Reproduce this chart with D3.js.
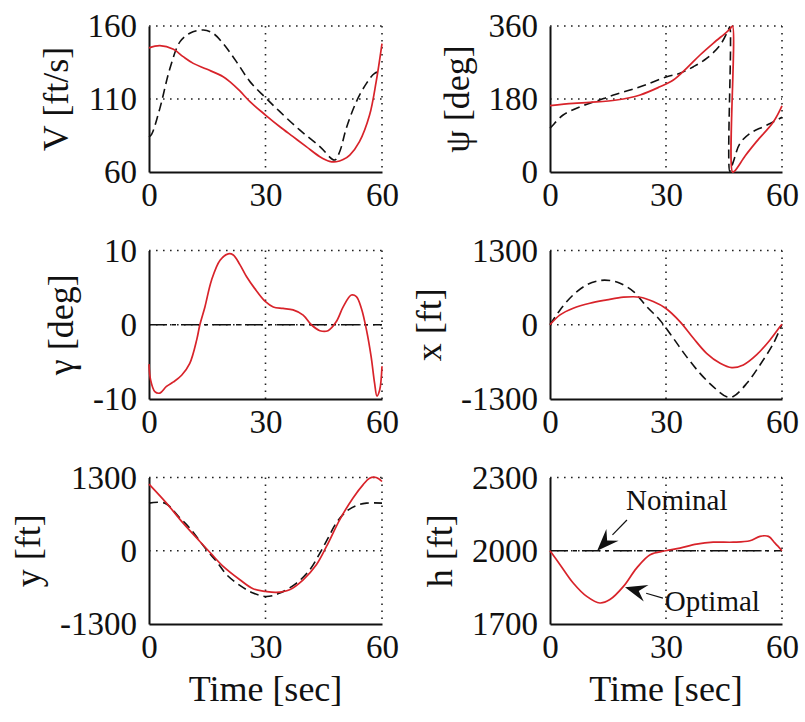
<!DOCTYPE html>
<html>
<head>
<meta charset="utf-8">
<script src="https://cdn.jsdelivr.net/npm/d3@7"></script>
<style>
  html, body { margin: 0; padding: 0; background: #fff; }
  svg { display: block; }
  text { font-family: "Liberation Serif", "Times New Roman", serif; fill: #111; }
</style>
</head>
<body>
<svg id="chart" width="805" height="722"></svg>
<script>
// ---- time grid & axis ticks ----
const timeTicks = [0, 30, 60];
const timeLabel = "Time [sec]";

// ---- V [ft/s] ----
const V_ticks = [60, 110, 160];
const V_opt_t = [0, 2.8, 6.3, 8.8, 11.4, 14.8, 19.1, 20.8, 23.4, 26, 30, 33.7, 37.1, 40.5, 44, 46.5, 48.2, 50, 51.7, 54.2, 56.8, 58.5, 60];
const V_opt   = [145, 146.5, 144, 139, 134.4, 130.5, 125.3, 121.9, 115.5, 108.2, 99, 91, 84.2, 77.4, 70.5, 67.3, 67, 68.5, 71.6, 80.8, 99, 121.9, 148];
const V_nom_t = [0, 0.7, 2.8, 5.4, 8, 10.5, 14, 16.5, 19.1, 22.5, 26, 30, 33.7, 38.8, 44, 47.8, 49.1, 50.8, 53.4, 56, 58.1, 60];
const V_nom   = [84, 86, 103.6, 131, 149.3, 155, 157.3, 155, 148, 135.6, 121.9, 110.9, 101.3, 88.8, 77.4, 68.2, 73.9, 89.9, 108.2, 120.7, 127.6, 129];

// ---- psi [deg] (heading wraps at 360) ----
const psi_ticks = [0, 180, 360];
const psi_opt_t = [0, 6, 10.3, 17.2, 23.3, 28.4, 31.9, 35.3, 38.8, 42.2, 45.7, 46.6, 47.2, 47.2, 47.8, 50.5, 53.4, 57.8, 60];
const psi_opt   = [163.5, 169, 171.8, 177.5, 190, 210, 226.8, 255.6, 288.5, 317.3, 345, 353, 360, 0, 3, 40, 74.8, 124, 163];
const psi_nom_t = [0, 0.4, 3.4, 7.8, 12.1, 16.4, 20.7, 25, 30.2, 33.6, 37.1, 40.5, 44, 46.1, 46.5, 46.5, 47.4, 49.1, 51.7, 55.2, 57.8, 60];
const psi_nom   = [108, 111.8, 140.5, 161, 175, 189.8, 202, 216, 235, 243.3, 259.7, 280, 313, 350, 358, 2, 25, 70, 95, 111.8, 124, 135];

// ---- gamma [deg] ----
const gam_ticks = [-10, 0, 10];
const gam_opt_t = [0, 0.4, 1.5, 2.8, 4.5, 6.3, 8.4, 10.5, 12.3, 13.1, 14.4, 16.1, 18.3, 20.4, 21.7, 23.4, 25.1, 27.2, 30, 32, 34.5, 37.1, 39.7, 41.8, 44, 46.1, 48.2, 50, 52.1, 53.4, 54.7, 56, 57.2, 58.1, 58.7, 59.4, 60];
const gam_opt   = [-5.3, -7.4, -9, -9.2, -8.3, -7.7, -6.8, -5.2, -2, 0, 2.4, 6, 8.7, 9.55, 9.4, 8.1, 6.5, 4.9, 3.1, 2.4, 2.2, 2, 1.3, 0, -0.8, -0.8, 0.4, 2.4, 4, 3.8, 2.2, -0.7, -4.3, -7.9, -9.6, -8.8, -5.6];
const gam_nom_t = [0, 60];
const gam_nom   = [0, 0];

// ---- x [ft] ----
const x_ticks = [-1300, 0, 1300];
const x_opt_t = [0, 2.6, 6, 10.3, 14.7, 19, 23.3, 26.7, 29.9, 33.6, 37.1, 40.5, 44, 47, 50, 53.4, 56.9, 59.5, 60];
const x_opt   = [0, 172, 289, 377, 435, 482, 482, 406, 289, 55, -237, -500, -675, -751, -704, -529, -266, -32, 10];
const x_nom_t = [0, 2.6, 6, 9.5, 12.9, 15.5, 18.1, 21.6, 25, 28.4, 31.9, 35.3, 38.8, 42.2, 45.7, 47.4, 50.9, 54.3, 57.8, 60];
const x_nom   = [0, 260, 523, 698, 774, 774, 727, 581, 318, 84, -237, -558, -851, -1084, -1260, -1255, -1026, -704, -325, 10];

// ---- y [ft] ----
const y_ticks = [-1300, 0, 1300];
const y_opt_t = [0, 4.5, 8.8, 13.1, 16.1, 19.1, 23.4, 26.8, 30, 32.8, 36.2, 39.7, 43.1, 45.7, 49.1, 52.5, 55.1, 56.8, 58.5, 60];
const y_opt   = [1182, 845, 490, 165, -60, -278, -515, -675, -722, -740, -692, -515, -249, 76, 549, 933, 1170, 1288, 1300, 1229];
const y_nom_t = [0, 4.1, 8, 10.5, 14.8, 17.4, 20, 23.4, 26.8, 30.2, 33.7, 38, 41.4, 44, 46.1, 48.2, 50.8, 53.4, 56, 60];
const y_nom   = [845, 845, 579, 401, 17, -190, -426, -615, -751, -811, -751, -574, -338, -42, 224, 490, 697, 803, 845, 845];

// ---- h [ft] ----
const h_ticks = [1700, 2000, 2300];
const h_opt_t = [0, 2.6, 6, 9.5, 12.9, 15.5, 19, 22.4, 25.9, 29.9, 33.6, 37.9, 42.2, 47.4, 51.7, 54.3, 56.5, 58.2, 60];
const h_opt   = [2000, 1943, 1868, 1813, 1786, 1800, 1854, 1929, 1984, 2000, 2011, 2027, 2035, 2035, 2041, 2059, 2059, 2031, 2000];
const h_nom_t = [0, 60];
const h_nom   = [2000, 2000];

// annotation labels in the h panel
const annotations = [
  { text: "Nominal", tx: 32.8, ty: 2167, anchor: "middle", from: [19.9, 2126], to: [12.2, 2000] },
  { text: "Optimal", tx: 29.7, ty: 1753, anchor: "start",  from: [29.2, 1806], to: [19.4, 1851] }
];

// ---- layout ----
const cols = [[149, 382], [550, 782]];
const rows = [[26, 172], [250.5, 399], [477.5, 624]];

const panels = [
  { col: 0, row: 0, label: "V [ft/s]", ticks: V_ticks,   opt: [V_opt_t, V_opt],     nom: [V_nom_t, V_nom],     nomDash: "9,5" },
  { col: 1, row: 0, label: "ψ [deg]",  ticks: psi_ticks, opt: [psi_opt_t, psi_opt], nom: [psi_nom_t, psi_nom], nomDash: "9,5" },
  { col: 0, row: 1, label: "γ [deg]",  ticks: gam_ticks, opt: [gam_opt_t, gam_opt], nom: [gam_nom_t, gam_nom], nomDash: "18,5,4,5" },
  { col: 1, row: 1, label: "x [ft]",   ticks: x_ticks,   opt: [x_opt_t, x_opt],     nom: [x_nom_t, x_nom],     nomDash: "9,5" },
  { col: 0, row: 2, label: "y [ft]",   ticks: y_ticks,   opt: [y_opt_t, y_opt],     nom: [y_nom_t, y_nom],     nomDash: "9,5", xlabel: true },
  { col: 1, row: 2, label: "h [ft]",   ticks: h_ticks,   opt: [h_opt_t, h_opt],     nom: [h_nom_t, h_nom],     nomDash: "18,5,4,5", xlabel: true, notes: annotations }
];

const RED = "#d8232a";
const TICK_FS = 33, LABEL_FS = 36;
const plainNum = d => String(d);   // plain "-1300" style labels
const svg = d3.select("#chart");

panels.forEach(p => {
  const [x0, x1] = cols[p.col];
  const [y0, y1] = rows[p.row];
  const xs = d3.scaleLinear().domain([timeTicks[0], timeTicks[timeTicks.length - 1]]).range([x0, x1]);
  const ys = d3.scaleLinear().domain([p.ticks[0], p.ticks[p.ticks.length - 1]]).range([y1, y0]);
  const g = svg.append("g");

  // dotted grid at every tick
  const grid = g.append("g").attr("stroke", "#222").attr("stroke-width", 1.6)
    .attr("stroke-dasharray", "1.6,5.4").attr("fill", "none");
  p.ticks.slice(1).forEach(v => grid.append("line")
    .attr("x1", x0).attr("x2", x1).attr("y1", ys(v)).attr("y2", ys(v)));
  timeTicks.slice(1).forEach(t => grid.append("line")
    .attr("x1", xs(t)).attr("x2", xs(t)).attr("y1", y0).attr("y2", y1));

  // axes (left and bottom) via d3 axis generators
  const yAxis = d3.axisLeft(ys).tickValues(p.ticks).tickFormat(plainNum).tickSize(0).tickPadding(12);
  const xAxis = d3.axisBottom(xs).tickValues(timeTicks).tickFormat(plainNum).tickSize(0).tickPadding(10);
  const ya = g.append("g").attr("transform", `translate(${x0},0)`).call(yAxis);
  const xa = g.append("g").attr("transform", `translate(0,${y1})`).call(xAxis);
  [ya, xa].forEach(a => {
    a.select(".domain").attr("stroke", "#111").attr("stroke-width", 2);
    a.selectAll("text").attr("font-size", TICK_FS).attr("fill", "#111")
      .attr("font-family", '"Liberation Serif", serif');
  });
  xa.selectAll("text").attr("dy", "0.72em");

  // y label to the left of the widest tick label
  const tb = ya.node().getBBox();
  const tickLeft = x0 + tb.x;
  g.append("text")
    .attr("transform", `translate(${tickLeft - 20},${(y0 + y1) / 2}) rotate(-90)`)
    .attr("text-anchor", "middle").attr("font-size", LABEL_FS)
    .text(p.label);

  if (p.xlabel) {
    g.append("text").attr("x", xs(30)).attr("y", 701)
      .attr("text-anchor", "middle").attr("font-size", LABEL_FS).text(timeLabel);
  }

  const line = d3.line().x(d => xs(d[0])).y(d => ys(d[1])).curve(d3.curveCatmullRom.alpha(0.5));

  // nominal (black dashed)
  g.append("path").datum(d3.zip(p.nom[0], p.nom[1]))
    .attr("d", line).attr("fill", "none").attr("stroke", "#111")
    .attr("stroke-width", 1.6).attr("stroke-dasharray", p.nomDash);

  // optimal (red solid)
  g.append("path").datum(d3.zip(p.opt[0], p.opt[1]))
    .attr("d", line).attr("fill", "none").attr("stroke", RED)
    .attr("stroke-width", 1.7);

  // annotations with filled arrowheads
  (p.notes || []).forEach(n => {
    const ax = xs(n.from[0]), ay = ys(n.from[1]);
    const bx = xs(n.to[0]), by = ys(n.to[1]);
    const ang = Math.atan2(by - ay, bx - ax);
    const L = 22, W = 8.5;
    const baseX = bx - L * Math.cos(ang), baseY = by - L * Math.sin(ang);
    g.append("line").attr("x1", ax).attr("y1", ay).attr("x2", baseX).attr("y2", baseY)
      .attr("stroke", "#111").attr("stroke-width", 1.2);
    const px = -Math.sin(ang) * W, py = Math.cos(ang) * W;
    g.append("path")
      .attr("d", `M${bx},${by}L${baseX + px},${baseY + py}L${baseX + 0.35 * L * Math.cos(ang)},${baseY + 0.35 * L * Math.sin(ang)}L${baseX - px},${baseY - py}Z`)
      .attr("fill", "#111");
    g.append("text").attr("x", xs(n.tx)).attr("y", ys(n.ty))
      .attr("text-anchor", n.anchor).attr("font-size", 29).text(n.text);
  });
});
</script>
</body>
</html>
